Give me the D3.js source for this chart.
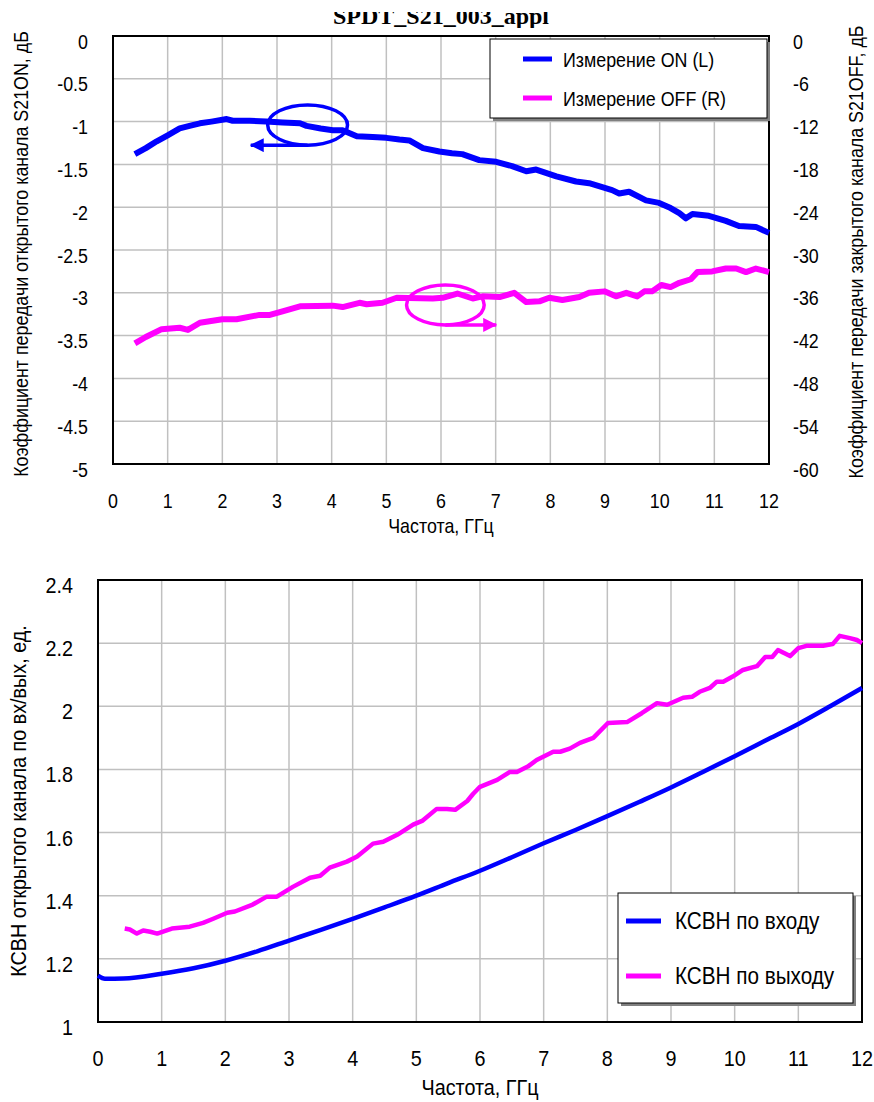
<!DOCTYPE html>
<html>
<head>
<meta charset="utf-8">
<script src="https://cdn.jsdelivr.net/npm/d3@7"></script>
<style>
  body { margin: 0; background: #fff; }
  text { font-family: "Liberation Sans Narrow", "Arial Narrow", "Liberation Sans", Arial, sans-serif; fill: #000; }
</style>
</head>
<body>
<div id="wrapper"></div>
<script>
// --- data: upper chart (S21, dB) ---
const freqOn = [0.40, 0.60, 0.80, 1.00, 1.22, 1.40, 1.59, 1.80, 2.08, 2.19, 2.50, 2.80, 3.10, 3.42, 3.54, 3.80, 4.02, 4.20, 4.46, 4.75, 5.00, 5.24, 5.42, 5.67, 5.97, 6.20, 6.39, 6.70, 7.01, 7.30, 7.56, 7.74, 8.11, 8.47, 8.71, 9.13, 9.26, 9.44, 9.75, 9.99, 10.20, 10.36, 10.48, 10.60, 10.90, 11.21, 11.45, 11.76, 12.00]
const s21On = [-1.38, -1.31, -1.23, -1.16, -1.08, -1.05, -1.02, -1.00, -0.97, -0.99, -0.99, -1.00, -1.01, -1.02, -1.05, -1.08, -1.10, -1.10, -1.17, -1.18, -1.19, -1.21, -1.22, -1.31, -1.35, -1.37, -1.38, -1.45, -1.47, -1.52, -1.58, -1.56, -1.64, -1.70, -1.72, -1.80, -1.84, -1.82, -1.92, -1.95, -2.01, -2.07, -2.13, -2.08, -2.10, -2.16, -2.22, -2.23, -2.30]

const freqOff = [0.40, 0.60, 0.89, 1.22, 1.37, 1.59, 2.00, 2.26, 2.68, 2.87, 3.10, 3.42, 4.02, 4.20, 4.51, 4.64, 4.93, 5.19, 5.85, 6.03, 6.30, 6.58, 6.76, 7.07, 7.34, 7.56, 7.80, 7.98, 8.22, 8.53, 8.71, 8.99, 9.20, 9.39, 9.59, 9.72, 9.86, 10.03, 10.20, 10.36, 10.57, 10.69, 10.96, 11.21, 11.40, 11.58, 11.76, 12.00]
const s21Off = [-43.1, -42.2, -41.1, -40.9, -41.2, -40.2, -39.7, -39.7, -39.1, -39.1, -38.6, -37.9, -37.8, -38.0, -37.4, -37.6, -37.4, -36.7, -36.8, -36.7, -36.1, -36.8, -36.5, -36.6, -36.0, -37.3, -37.2, -36.7, -37.0, -36.6, -36.0, -35.8, -36.5, -36.0, -36.5, -35.8, -35.8, -34.9, -35.2, -34.6, -34.1, -33.1, -33.0, -32.6, -32.6, -33.1, -32.6, -33.1]

const leftTicks = [0, -0.5, -1, -1.5, -2, -2.5, -3, -3.5, -4, -4.5, -5]
const rightTicks = [0, -6, -12, -18, -24, -30, -36, -42, -48, -54, -60]
const freqTicks = [0, 1, 2, 3, 4, 5, 6, 7, 8, 9, 10, 11, 12]

// annotation ellipses (freq, value) and arrow end frequencies
const noteOn = { f: 3.56, v: -1.04, rf: 0.73, rv: 0.235, arrowTo: 2.52 }
const noteOff = { f: 6.08, v: -37.7, rf: 0.71, rv: 2.8, arrowTo: 7.01 }

// --- data: lower chart (VSWR) ---
const freqIn = [0.00, 0.11, 0.40, 1.00, 1.50, 2.00, 2.50, 3.00, 3.50, 4.00, 4.50, 5.00, 5.50, 6.00, 6.50, 7.00, 7.50, 8.00, 8.50, 9.00, 9.50, 10.00, 10.50, 11.00, 11.50, 12.00]
const vswrIn = [1.147, 1.137, 1.138, 1.153, 1.170, 1.194, 1.224, 1.258, 1.292, 1.327, 1.363, 1.400, 1.440, 1.479, 1.522, 1.566, 1.608, 1.652, 1.697, 1.743, 1.792, 1.842, 1.893, 1.944, 2.000, 2.058]

const freqOut = [0.42, 0.50, 0.61, 0.71, 0.82, 0.93, 1.16, 1.44, 1.65, 1.81, 2.03, 2.15, 2.43, 2.65, 2.81, 3.06, 3.33, 3.49, 3.64, 3.91, 4.07, 4.32, 4.48, 4.70, 4.95, 5.10, 5.32, 5.48, 5.61, 5.80, 5.89, 6.00, 6.27, 6.47, 6.58, 6.75, 6.89, 7.15, 7.26, 7.41, 7.57, 7.78, 8.01, 8.31, 8.54, 8.78, 8.94, 9.19, 9.33, 9.45, 9.61, 9.72, 9.82, 9.97, 10.13, 10.35, 10.48, 10.59, 10.68, 10.87, 11.00, 11.14, 11.39, 11.54, 11.65, 11.81, 11.92, 12.00]
const vswrOut = [1.296, 1.293, 1.280, 1.290, 1.286, 1.280, 1.296, 1.302, 1.314, 1.327, 1.346, 1.350, 1.372, 1.397, 1.397, 1.428, 1.457, 1.463, 1.489, 1.508, 1.524, 1.565, 1.571, 1.593, 1.625, 1.638, 1.675, 1.675, 1.672, 1.700, 1.722, 1.745, 1.767, 1.792, 1.792, 1.809, 1.830, 1.856, 1.856, 1.866, 1.884, 1.900, 1.947, 1.950, 1.978, 2.010, 2.005, 2.027, 2.030, 2.046, 2.058, 2.078, 2.078, 2.094, 2.115, 2.127, 2.156, 2.156, 2.178, 2.159, 2.184, 2.192, 2.192, 2.197, 2.223, 2.216, 2.210, 2.200]

const vswrTicks = [1, 1.2, 1.4, 1.6, 1.8, 2, 2.2, 2.4]

const width = 874
const height = 1102

const svg = d3.select('#wrapper')
  .append('svg')
    .attr('width', width)
    .attr('height', height)

const defs = svg.append('defs')
function arrowMarker(id, color) {
  defs.append('marker')
      .attr('id', id)
      .attr('viewBox', '0 0 14 14')
      .attr('refX', 13)
      .attr('refY', 7)
      .attr('markerWidth', 14)
      .attr('markerHeight', 14)
      .attr('markerUnits', 'userSpaceOnUse')
      .attr('orient', 'auto')
    .append('path')
      .attr('d', 'M0,0 L14,7 L0,14 Z')
      .attr('fill', color)
}
arrowMarker('arrow-blue', '#0000ff')
arrowMarker('arrow-magenta', '#ff00ff')

// no narrow font installed: squeeze a regular sans horizontally
function narrowText(g, opts) {
  const rot = opts.rotate ? ` rotate(${opts.rotate})` : ''
  return g.append('text')
      .attr('transform', `translate(${opts.x}, ${opts.y})${rot} scale(${opts.sx}, 1)`)
      .attr('text-anchor', opts.anchor || 'start')
      .attr('dy', opts.dy || null)
      .style('font-size', opts.size + 'px')
      .text(opts.text)
}

function drawGrid(g, xScale, yScale, yTicks) {
  const [x0, x1] = xScale.range()
  const [y0, y1] = yScale.range()
  g.append('g').selectAll('line')
    .data(freqTicks)
    .join('line')
      .attr('x1', d => xScale(d)).attr('x2', d => xScale(d))
      .attr('y1', y0).attr('y2', y1)
      .attr('stroke', '#c0c0c0')
      .attr('stroke-width', 1.5)
  g.append('g').selectAll('line')
    .data(yTicks)
    .join('line')
      .attr('x1', x0).attr('x2', x1)
      .attr('y1', d => yScale(d)).attr('y2', d => yScale(d))
      .attr('stroke', '#c0c0c0')
      .attr('stroke-width', 1.5)
  g.append('rect')
      .attr('x', x0).attr('y', y1)
      .attr('width', x1 - x0).attr('height', y0 - y1)
      .attr('fill', 'none')
      .attr('stroke', '#000')
      .attr('stroke-width', 2)
}

function drawLegend(g, box, items, fontSize, sx) {
  g.append('rect')
      .attr('x', box.x + 3).attr('y', box.y + 3)
      .attr('width', box.w).attr('height', box.h)
      .attr('fill', '#808080')
  g.append('rect')
      .attr('x', box.x).attr('y', box.y)
      .attr('width', box.w).attr('height', box.h)
      .attr('fill', '#fff')
      .attr('stroke', '#000')
      .attr('stroke-width', 1)
  items.forEach((item, i) => {
    const y = box.y + box.rowTop + i * box.rowStep
    g.append('line')
        .attr('x1', box.x + box.lineX).attr('x2', box.x + box.lineX + box.lineW)
        .attr('y1', y).attr('y2', y)
        .attr('stroke', item.color)
        .attr('stroke-width', item.width)
    narrowText(g, { x: box.x + box.textX, y, dy: '0.36em', size: fontSize, sx, text: item.label })
  })
}

// ================= upper chart =================
const upper = svg.append('g')

const xTop = d3.scaleLinear().domain([0, 12]).range([113, 769])
const yLeft = d3.scaleLinear().domain([-5, 0]).range([464, 36])
const yRight = d3.scaleLinear().domain([-60, 0]).range([464, 36])

// title, clipped at the top as in the original
defs.append('clipPath').attr('id', 'title-clip')
  .append('rect').attr('x', 0).attr('y', 12).attr('width', width).attr('height', 16)
upper.append('text')
    .attr('x', 441)
    .attr('y', 24)
    .attr('text-anchor', 'middle')
    .attr('clip-path', 'url(#title-clip)')
    .style('font-family', '"Liberation Serif", "Times New Roman", serif')
    .style('font-weight', 'bold')
    .style('font-size', '24px')
    .text('SPDT_S21_003_appl')

drawGrid(upper, xTop, yLeft, leftTicks)

const topFont = 21
const topSx = 0.85

leftTicks.forEach(d => narrowText(upper, {
  x: 88, y: yLeft(d) + 5, dy: '0.36em', anchor: 'end', size: topFont, sx: topSx, text: d
}))
rightTicks.forEach(d => narrowText(upper, {
  x: 793, y: yRight(d) + 5, dy: '0.36em', size: topFont, sx: topSx, text: d
}))
freqTicks.forEach(d => narrowText(upper, {
  x: xTop(d), y: 508, anchor: 'middle', size: topFont, sx: topSx, text: d
}))

narrowText(upper, { x: 441, y: 533, anchor: 'middle', size: topFont, sx: topSx, text: 'Частота, ГГц' })
narrowText(upper, { x: 28, y: 254, rotate: -90, anchor: 'middle', size: topFont, sx: topSx,
  text: 'Коэффициент передачи открытого канала S21ON, дБ' })
narrowText(upper, { x: 863, y: 252, rotate: -90, anchor: 'middle', size: topFont, sx: topSx,
  text: 'Коэффициент передачи закрытого канала S21OFF, дБ' })

const onLine = d3.line()
    .x((d, i) => xTop(freqOn[i]))
    .y(d => yLeft(d))
const offLine = d3.line()
    .x((d, i) => xTop(freqOff[i]))
    .y(d => yRight(d))

upper.append('path')
    .attr('d', offLine(s21Off))
    .attr('fill', 'none')
    .attr('stroke', '#ff00ff')
    .attr('stroke-width', 6)
    .attr('stroke-linejoin', 'round')

upper.append('path')
    .attr('d', onLine(s21On))
    .attr('fill', 'none')
    .attr('stroke', '#0000ff')
    .attr('stroke-width', 6)
    .attr('stroke-linejoin', 'round')

// annotations
function drawNote(note, yScale, color, marker) {
  const cx = xTop(note.f)
  const cy = yScale(note.v)
  const rx = xTop(note.f + note.rf) - cx
  const ry = cy - yScale(note.v + note.rv)
  upper.append('ellipse')
      .attr('cx', cx).attr('cy', cy)
      .attr('rx', rx).attr('ry', ry)
      .attr('fill', 'none')
      .attr('stroke', color)
      .attr('stroke-width', 3.5)
  upper.append('line')
      .attr('x1', cx).attr('y1', cy + ry)
      .attr('x2', xTop(note.arrowTo)).attr('y2', cy + ry)
      .attr('stroke', color)
      .attr('stroke-width', 3.5)
      .attr('marker-end', `url(#${marker})`)
}
drawNote(noteOn, yLeft, '#0000ff', 'arrow-blue')
drawNote(noteOff, yRight, '#ff00ff', 'arrow-magenta')

drawLegend(upper,
  { x: 490, y: 39, w: 277, h: 79, rowTop: 20, rowStep: 39, lineX: 33, lineW: 29, textX: 73 },
  [
    { label: 'Измерение ON (L)', color: '#0000ff', width: 5 },
    { label: 'Измерение OFF (R)', color: '#ff00ff', width: 5 },
  ],
  topFont, topSx)

// ================= lower chart =================
const lower = svg.append('g')

const xBot = d3.scaleLinear().domain([0, 12]).range([98, 862])
const yBot = d3.scaleLinear().domain([1, 2.4]).range([1022, 580])

drawGrid(lower, xBot, yBot, vswrTicks)

const botFont = 22
const botSx = 0.9

vswrTicks.forEach(d => narrowText(lower, {
  x: 73, y: yBot(d) + 5, dy: '0.36em', anchor: 'end', size: botFont, sx: botSx, text: d
}))
freqTicks.forEach(d => narrowText(lower, {
  x: xBot(d), y: 1066, anchor: 'middle', size: botFont, sx: botSx, text: d
}))

narrowText(lower, { x: 480, y: 1095, anchor: 'middle', size: botFont, sx: botSx, text: 'Частота, ГГц' })
narrowText(lower, { x: 26, y: 801, rotate: -90, anchor: 'middle', size: botFont, sx: botSx,
  text: 'КСВН открытого канала по вх/вых, ед.' })

const inLine = d3.line()
    .x((d, i) => xBot(freqIn[i]))
    .y(d => yBot(d))
    .curve(d3.curveMonotoneX)
const outLine = d3.line()
    .x((d, i) => xBot(freqOut[i]))
    .y(d => yBot(d))

lower.append('path')
    .attr('d', inLine(vswrIn))
    .attr('fill', 'none')
    .attr('stroke', '#0000ff')
    .attr('stroke-width', 4.5)
    .attr('stroke-linejoin', 'round')

lower.append('path')
    .attr('d', outLine(vswrOut))
    .attr('fill', 'none')
    .attr('stroke', '#ff00ff')
    .attr('stroke-width', 4.5)
    .attr('stroke-linejoin', 'round')

drawLegend(lower,
  { x: 618, y: 893, w: 235, h: 110, rowTop: 28, rowStep: 55, lineX: 8, lineW: 35, textX: 57 },
  [
    { label: 'КСВН по входу', color: '#0000ff', width: 5 },
    { label: 'КСВН по выходу', color: '#ff00ff', width: 5 },
  ],
  23, botSx)
</script>
</body>
</html>
